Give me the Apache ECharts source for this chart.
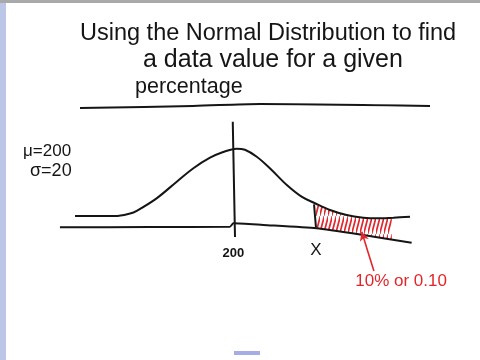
<!DOCTYPE html>
<html><head><meta charset="utf-8">
<script src="https://cdn.jsdelivr.net/npm/echarts@6/dist/echarts.min.js"></script>
<style>html,body{margin:0;padding:0;background:#fff}#c{width:480px;height:360px}</style>
</head><body><div id="c"></div>
<script>
// ---- data (x in data units, mean 200, sd 20; y = drawn height) ----
const titleLines = ["Using the Normal Distribution to find", "a data value for a given", "percentage"];
const paramLines = ["\u03BC=200", "\u03C3=20"];
const curveX = [150, 162.5, 167.2, 169.3, 175.5, 181.8, 187.0, 192.2, 196.3, 200.5, 203.1, 206.8, 210.9, 216.2, 220.8, 225.0, 229.7, 234.9, 240.1, 244.3, 249.5, 254.7];
const curveY = [24.3, 24.3, 26.1, 28.0, 36.9, 48.8, 58.4, 65.9, 70.0, 72.4, 71.6, 66.6, 58.4, 46.4, 38.1, 33.4, 28.6, 25.0, 23.1, 22.6, 23.1, 23.8];
const axisX = [145.3, 173.4, 198.4, 199.5, 208.8, 225.5, 240.1, 255.2];
const axisY = [16.2, 16.4, 16.6, 19.1, 17.9, 15.5, 10.7, 5.2];
const meanLineX = [199.3, 200.0];
const meanLineY = [91.6, 9.3];
const xLineX = [224.7, 225.3];
const xLineY = [32.6, 16.2];
const hatchUpperX = [225.3, 229.7, 234.9, 240.1, 244.3, 249.0];
const hatchUpperY = [33.0, 28.6, 25.0, 23.1, 22.6, 23.0];
const hatchLowerX = [249.0, 240.1, 225.3];
const hatchLowerY = [7.5, 10.7, 15.5];
const arrowFrom = [243.4, -15];
const arrowTo = [239.6, 13.1];
const labelText = ["200", "X", "10% or 0.10"];
const labelX = [199.5, 225.3, 251.9];
const labelY = [-2.1, 0.0, -22.1];

const zip = (a, b) => a.map((v, i) => [v, b[i]]);
const INK = '#151515', RED = '#e3262b';
const FONT = '"Liberation Sans",sans-serif';

const pc = document.createElement('canvas');
pc.width = 4; pc.height = 18;
const g = pc.getContext('2d');
g.strokeStyle = RED; g.lineWidth = 1.7;
g.beginPath(); g.moveTo(-0.5, 18.5); g.lineTo(4.5, -0.5); g.stroke();

const lineSeries = (xs, ys, smooth) => ({
  type: 'line', data: zip(xs, ys), showSymbol: false, symbol: 'none', smooth: smooth,
  lineStyle: { color: INK, width: 2 }, silent: true, z: 3
});

const hatchPoly = zip(hatchUpperX, hatchUpperY).concat(zip(hatchLowerX, hatchLowerY));
const labelStyles = [
  { fontSize: 13, fill: INK, fontWeight: 'bold' },
  { fontSize: 17, fill: INK, fontWeight: 'normal' },
  { fontSize: 17, fill: RED, fontWeight: 'normal' }
];

const chart = echarts.init(document.getElementById('c'), null, { renderer: 'canvas' });
chart.setOption({
  animation: false,
  backgroundColor: '#ffffff',
  grid: { left: 11, right: 53, top: 110, bottom: 54 },
  xAxis: { type: 'value', min: 130, max: 260, show: false },
  yAxis: { type: 'value', min: -40, max: 100, show: false },
  graphic: [
    { type: 'rect', shape: { x: 0, y: 0, width: 480, height: 3 }, style: { fill: '#a9a9a9' } },
    { type: 'rect', shape: { x: 0, y: 3, width: 6, height: 357 }, style: { fill: '#bcc6e6' } },
    { type: 'rect', shape: { x: 234, y: 351, width: 26, height: 4 }, style: { fill: '#a6ace6' } },
    { type: 'text', x: 80, y: 34, style: { text: titleLines[0], font: '23.5px ' + FONT, fill: INK, verticalAlign: 'middle' } },
    { type: 'text', x: 143, y: 60, style: { text: titleLines[1], font: '25px ' + FONT, fill: INK, verticalAlign: 'middle' } },
    { type: 'text', x: 135, y: 87, style: { text: titleLines[2], font: '21.5px ' + FONT, fill: INK, verticalAlign: 'middle' } },
    { type: 'polyline', shape: { points: [[80, 108], [193, 106], [260, 104], [430, 106]], smooth: 0.3 }, style: { stroke: INK, lineWidth: 2, fill: null } },
    { type: 'text', x: 23, y: 151, style: { text: paramLines[0], font: '17px ' + FONT, fill: INK, verticalAlign: 'middle' } },
    { type: 'text', x: 30, y: 171, style: { text: paramLines[1], font: '18px ' + FONT, fill: INK, verticalAlign: 'middle' } }
  ],
  series: [
    {
      type: 'custom', silent: true, z: 2,
      data: [0],
      renderItem: (params, api) => ({
        type: 'polygon',
        shape: { points: hatchPoly.map(p => api.coord(p)) },
        style: { fill: { image: pc, repeat: 'repeat' }, stroke: null }
      })
    },
    lineSeries(curveX, curveY, 0.35),
    Object.assign(lineSeries(axisX, axisY, 0.2), {
      markLine: {
        silent: true, symbol: ['none', 'arrow'], symbolSize: [7, 9],
        label: { show: false },
        lineStyle: { color: RED, width: 1.6, type: 'solid' },
        data: [[{ coord: arrowFrom }, { coord: arrowTo }]]
      }
    }),
    lineSeries(meanLineX, meanLineY, false),
    lineSeries(xLineX, xLineY, false),
    {
      type: 'custom', silent: true, z: 4,
      data: labelText.map((t, i) => [labelX[i], labelY[i], i]),
      renderItem: (params, api) => {
        const i = api.value(2);
        const p = api.coord([api.value(0), api.value(1)]);
        const s = labelStyles[i];
        return {
          type: 'text', x: p[0], y: p[1],
          style: { text: labelText[i], fill: s.fill, font: s.fontWeight + ' ' + s.fontSize + 'px ' + FONT, align: 'center', verticalAlign: 'middle' }
        };
      }
    }
  ]
});
</script></body></html>
